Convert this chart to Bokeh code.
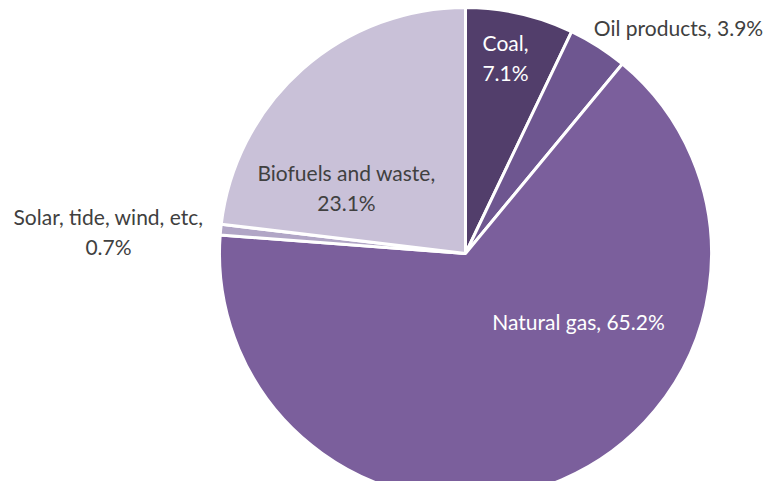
import numpy as np
from bokeh.plotting import figure
from bokeh.models import Range1d, ColumnDataSource
from bokeh.core.properties import value
from bokeh.embed import file_html
from bokeh.resources import INLINE

# ---- data ----
categories = ["Coal", "Oil products", "Natural gas", "Solar, tide, wind, etc", "Biofuels and waste"]
shares = [7.1, 3.9, 65.2, 0.7, 23.1]
colors = ["#523E6B", "#6E5690", "#7B5F9C", "#B1A6C6", "#C9C1D8"]
label_lines = [["Coal,", "7.1%"], ["Oil products, 3.9%"], ["Natural gas, 65.2%"],
               ["Solar, tide, wind, etc,", "0.7%"], ["Biofuels and waste,", "23.1%"]]
label_colors = ["white", "#404040", "white", "#404040", "#404040"]

# ---- layout (picture pixel coordinates, y measured upward from picture bottom) ----
W, H = 765, 481
PAGE_H = 497
cx, cy, R = 465, PAGE_H - 253, 246
# label centre offsets from pie centre (dx right, dy down), pixels
label_off = [(40, -196), (213, -226), (113, 68), (-357, -22), (-119, -66)]
line_gap = 30

p = figure(width=W, height=H, output_backend="svg", toolbar_location=None,
           x_range=Range1d(0, W), y_range=Range1d(PAGE_H - H, PAGE_H),
           min_border=0, outline_line_color=None)
p.axis.visible = False
p.grid.visible = False
p.background_fill_color = "white"
p.border_fill_color = "white"

frac = np.array(shares) / sum(shares)
cum = np.concatenate([[0], np.cumsum(frac)])
start = np.pi / 2 - cum[:-1] * 2 * np.pi
end = np.pi / 2 - cum[1:] * 2 * np.pi

src = ColumnDataSource(dict(x=[cx] * len(shares), y=[cy] * len(shares),
                            start=start, end=end, color=colors, cat=categories))
p.wedge(x="x", y="y", radius=R, start_angle="start", end_angle="end",
        direction="clock", fill_color="color", line_color="white", line_width=3,
        source=src)

tx, ty, tt, tc = [], [], [], []
for lines, col, (dx, dy) in zip(label_lines, label_colors, label_off):
    lx = cx + dx
    ly = cy - dy
    n = len(lines)
    for i, line in enumerate(lines):
        tx.append(lx)
        ty.append(ly + ((n - 1) / 2 - i) * line_gap)
        tt.append(line)
        tc.append(col)

p.text(x=tx, y=ty, text=tt, text_color=tc, text_align="center", text_baseline="middle",
       text_font=value("Lato"), text_font_size="21px")

open("out.html", "w").write(file_html(p, INLINE))
